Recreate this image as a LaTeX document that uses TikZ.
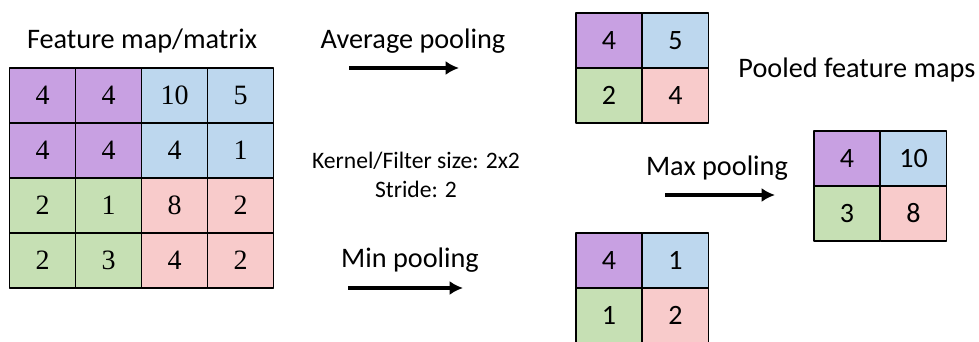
\documentclass[tikz,border=0pt]{standalone}
\usepackage{fontspec}
\setmainfont{Carlito}
\newfontfamily\numfont{Liberation Serif}
\usetikzlibrary{positioning,arrows.meta}
\definecolor{cpurple}{RGB}{200,160,226}
\definecolor{cblue}{RGB}{189,215,238}
\definecolor{cgreen}{RGB}{198,224,180}
\definecolor{cpink}{RGB}{248,203,203}
\tikzset{
  cell/.style={draw, line width=1.3pt, minimum width=49.5pt, minimum height=41.25pt, inner sep=0pt},
  lbl/.style={inner sep=0pt, font=\fontsize{21.2}{24}\selectfont},
  poolarrow/.style={-{Latex[length=10pt,width=10.5pt]}, line width=2.6pt}
}
\begin{document}
\begin{tikzpicture}[x=0.75pt, y=-0.75pt, line join=round, >=latex]
	\useasboundingbox (0,0) rectangle (979,342);
	% input matrix
	\foreach \v/\col [count=\i from 0] in {4/cpurple,4/cpurple,10/cblue,5/cblue,
		4/cpurple,4/cpurple,4/cblue,1/cblue,
		2/cgreen,1/cgreen,8/cpink,2/cpink,
		2/cgreen,3/cgreen,4/cpink,2/cpink}{
		\pgfmathtruncatemacro\r{\i/4}
		\pgfmathtruncatemacro\c{mod(\i,4)}
		\node[cell, fill=\col, font=\numfont\fontsize{21}{24}\selectfont] (f\r\c) at (42.5+66*\c, 95.5+55*\r) {\v};
	}
	\node[lbl] (title) at (142,41) {Feature map/matrix};
	% pooled matrices
	\foreach \nm/\x/\y/\a/\b/\c/\d in {avg/609/40.5/4/5/2/4, mx/847/158.5/4/10/3/8, mn/609/260.5/4/1/1/2}{
		\node[cell, fill=cpurple, font=\fontsize{21}{24}\selectfont] (\nm1) at (\x,\y) {\a};
		\node[cell, fill=cblue, font=\fontsize{21}{24}\selectfont] (\nm2) at (\x+66.5,\y) {\b};
		\node[cell, fill=cgreen, font=\fontsize{21}{24}\selectfont] (\nm3) at (\x,\y+55) {\c};
		\node[cell, fill=cpink, font=\fontsize{21}{24}\selectfont] (\nm4) at (\x+66.5,\y+55) {\d};
	}
	\node[lbl] (pooled) at (857,70) {Pooled feature maps};
	% labels and arrows
	\path
	(413,41) node[lbl] (avglbl) {Average pooling}
	(349,68) coordinate (avgA) (459,68) coordinate (avgB)
	(410,260) node[lbl] (mnlbl) {Min pooling}
	(348,288) coordinate (mnA) (463,288) coordinate (mnB)
	(717,168) node[lbl] (mxlbl) {Max pooling}
	(665,195) coordinate (mxA) (775,195) coordinate (mxB);
	\draw[poolarrow] (avgA) -- (avgB);
	\draw[poolarrow] (mnA) -- (mnB);
	\draw[poolarrow] (mxA) -- (mxB);
	\node[inner sep=0pt, font=\fontsize{17.7}{20}\selectfont] (kernel) at (416,161) {Kernel/Filter size: 2x2};
	\node[inner sep=0pt, font=\fontsize{17.7}{20}\selectfont] (stride) at (416,189) {Stride: 2};
\end{tikzpicture}
\end{document}
